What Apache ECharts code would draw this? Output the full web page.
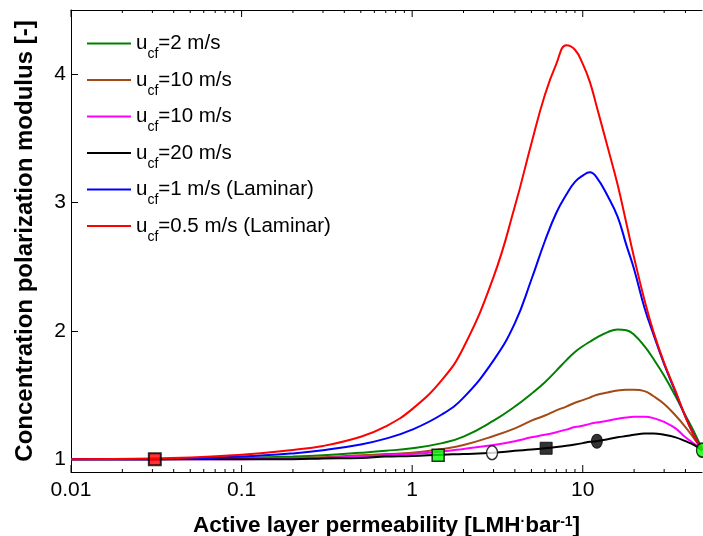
<!DOCTYPE html>
<html>
<head>
<meta charset="utf-8">
<script src="https://cdn.jsdelivr.net/npm/echarts@6/dist/echarts.min.js"></script>
<style>
  html, body { margin: 0; padding: 0; background: #fff; }
  #chart { width: 703px; height: 536px; }
</style>
</head>
<body>
<div id="chart"></div>
<script>
// shared x grid (LMH/bar)
const xValues = [0.01, 0.03, 0.1, 0.2, 0.3, 0.5, 0.7, 1, 1.5, 2, 3, 4, 5, 6, 7, 8, 9, 10, 11, 12, 14, 16, 18, 20, 23, 26, 30, 35, 40, 45, 50];

const ucf2 = [1.0, 1.0, 1.01, 1.02, 1.03, 1.05, 1.065, 1.085, 1.125, 1.175, 1.30, 1.41, 1.51, 1.60, 1.69, 1.77, 1.835, 1.88, 1.915, 1.945, 1.99, 2.01, 2.005, 1.97, 1.88, 1.78, 1.65, 1.49, 1.34, 1.21, 1.08];
const ucf10a = [1.0, 1.0, 1.005, 1.01, 1.015, 1.03, 1.04, 1.05, 1.08, 1.11, 1.18, 1.24, 1.30, 1.34, 1.38, 1.41, 1.44, 1.46, 1.48, 1.50, 1.52, 1.535, 1.54, 1.54, 1.53, 1.49, 1.43, 1.34, 1.25, 1.16, 1.08];
const ucf10b = [1.0, 1.0, 1.0, 1.005, 1.01, 1.02, 1.03, 1.04, 1.06, 1.08, 1.11, 1.14, 1.17, 1.19, 1.21, 1.23, 1.25, 1.26, 1.275, 1.285, 1.30, 1.315, 1.325, 1.33, 1.33, 1.32, 1.29, 1.24, 1.17, 1.12, 1.08];
const ucf20 = [1.0, 1.0, 1.0, 1.0, 1.005, 1.01, 1.02, 1.025, 1.035, 1.04, 1.05, 1.065, 1.075, 1.085, 1.095, 1.105, 1.115, 1.125, 1.135, 1.14, 1.155, 1.17, 1.18, 1.19, 1.20, 1.20, 1.19, 1.17, 1.14, 1.11, 1.07];
const ucf1lam = [1.0, 1.0, 1.02, 1.045, 1.07, 1.115, 1.16, 1.23, 1.35, 1.48, 1.77, 2.06, 2.40, 2.70, 2.92, 3.06, 3.16, 3.21, 3.235, 3.20, 3.05, 2.89, 2.67, 2.48, 2.18, 1.97, 1.74, 1.52, 1.33, 1.18, 1.07];
const ucf05lam = [1.0, 1.005, 1.035, 1.072, 1.103, 1.175, 1.255, 1.39, 1.62, 1.87, 2.42, 2.97, 3.46, 3.84, 4.08, 4.225, 4.19, 4.08, 3.94, 3.76, 3.43, 3.14, 2.84, 2.57, 2.24, 1.99, 1.75, 1.53, 1.33, 1.18, 1.07];

const legendLabels = ['=2 m/s', '=10 m/s', '=10 m/s', '=20 m/s', '=1 m/s (Laminar)', '=0.5 m/s (Laminar)'];

// highlighted points
const markerX = [0.031, 1.42, 2.94, 6.1, 12.1, 50];
const markerY = [1.0, 1.03, 1.05, 1.085, 1.14, 1.07];

// tick labels / tick positions
const yLabels = [1, 2, 3, 4];
const majorTicks = [0.01, 0.1, 1, 10];
const minorTicks = [0.02, 0.03, 0.04, 0.05, 0.06, 0.07, 0.08, 0.09,
                    0.2, 0.3, 0.4, 0.5, 0.6, 0.7, 0.8, 0.9,
                    2, 3, 4, 5, 6, 7, 8, 9,
                    20, 30, 40];

const X_MIN = 0.01, X_MAX = 50, Y_MIN = 0.9, Y_MAX = 4.5;
const FONT = '"Liberation Sans", Arial, sans-serif';

const curves = [ucf2, ucf10a, ucf10b, ucf20, ucf1lam, ucf05lam];
const colors = ['#008000', '#a34b16', '#ff00ff', '#000000', '#0000ff', '#ff0000'];
const names = ['s0', 's1', 's2', 's3', 's4', 's5'];

const markerStyles = [
  { symbol: 'rect', size: [12, 12], fill: '#ff0000', border: 2 },
  { symbol: 'rect', size: [12, 12], fill: '#00ff00', border: 1.5 },
  { symbol: 'circle', size: [11, 14], fill: '#ffffff', border: 1.5 },
  { symbol: 'rect', size: [12, 12], fill: '#000000', border: 1 },
  { symbol: 'circle', size: [11, 14], fill: '#000000', border: 1 },
  { symbol: 'circle', size: [11, 14], fill: '#00ff00', border: 1.5 }
];

function isDecade(v) {
  return majorTicks.some(t => Math.abs(t - v) / t < 1e-6);
}

const lineSeries = curves.map((ys, i) => ({
  name: names[i],
  type: 'line',
  data: xValues.map((x, j) => [x, ys[j]]),
  symbol: 'none',
  smooth: 0.45,
  lineStyle: { color: colors[i], width: 2 },
  itemStyle: { color: colors[i] },
  z: 2 + i
}));

const markerSeries = {
  type: 'scatter',
  silent: true,
  z: 20,
  data: markerX.map((x, i) => ({
    value: [x, markerY[i]],
    symbol: markerStyles[i].symbol,
    symbolSize: markerStyles[i].size,
    itemStyle: { color: markerStyles[i].fill, borderColor: '#000', borderWidth: markerStyles[i].border }
  }))
};

// log-axis major + minor ticks on bottom and top edges, pointing inward
const tickSeries = {
  type: 'custom',
  silent: true,
  z: 1,
  data: majorTicks.concat(minorTicks).map(v => [v]),
  renderItem: (params, api) => {
    const len = params.dataIndex < majorTicks.length ? 7 : 3;
    const b = api.coord([api.value(0), Y_MIN]);
    const t = api.coord([api.value(0), Y_MAX]);
    return {
      type: 'group',
      children: [
        { type: 'line', shape: { x1: b[0], y1: b[1], x2: b[0], y2: b[1] - len }, style: { stroke: '#000', lineWidth: 1 } },
        { type: 'line', shape: { x1: t[0], y1: t[1], x2: t[0], y2: t[1] + len }, style: { stroke: '#000', lineWidth: 1 } }
      ]
    };
  }
};

const chart = echarts.init(document.getElementById('chart'));

chart.setOption({
  backgroundColor: '#fff',
  animation: false,
  grid: { left: 71, right: 1, top: 10, bottom: 64, containLabel: false, outerBoundsMode: 'none' },
  legend: {
    data: names,
    orient: 'vertical',
    left: 87,
    top: 33,
    padding: 0,
    itemGap: 8,
    itemWidth: 44,
    itemHeight: 2,
    icon: 'rect',
    selectedMode: false,
    formatter: name => '{u|u}{s|cf}{u|' + legendLabels[names.indexOf(name)] + '}',
    textStyle: {
      color: '#000',
      fontFamily: FONT,
      rich: {
        u: { fontSize: 20.5, lineHeight: 36, fontFamily: FONT, color: '#000' },
        s: { fontSize: 14, lineHeight: 4, verticalAlign: 'bottom', fontFamily: FONT, color: '#000' }
      }
    }
  },
  xAxis: [{
    type: 'log',
    logBase: 10,
    min: X_MIN,
    max: X_MAX,
    position: 'bottom',
    splitLine: { show: false },
    axisLine: { lineStyle: { color: '#000', width: 1 } },
    axisTick: { show: false },
    axisLabel: {
      color: '#000', fontSize: 21, fontFamily: FONT, margin: 8,
      formatter: v => isDecade(v) ? String(+v.toPrecision(6)) : ''
    },
    name: '{b|Active layer permeability [LMH}{d|·}{b|bar}{p|-1}{b|]}',
    nameLocation: 'middle',
    nameGap: 43,
    nameTextStyle: {
      color: '#000',
      rich: {
        b: { fontSize: 22.5, fontWeight: 'bold', lineHeight: 22, fontFamily: FONT, color: '#000' },
        d: { fontSize: 14, fontWeight: 'bold', lineHeight: 12, verticalAlign: 'top', fontFamily: FONT, color: '#000' },
        p: { fontSize: 14, fontWeight: 'bold', lineHeight: 10, verticalAlign: 'top', fontFamily: FONT, color: '#000' }
      }
    }
  }, {
    type: 'log',
    logBase: 10,
    min: X_MIN,
    max: X_MAX,
    position: 'top',
    splitLine: { show: false },
    axisLine: { lineStyle: { color: '#000', width: 1 } },
    axisTick: { show: false },
    axisLabel: { show: false }
  }],
  yAxis: {
    type: 'value',
    min: Y_MIN,
    max: Y_MAX,
    splitNumber: 4,
    splitLine: { show: false },
    axisLine: { show: true, lineStyle: { color: '#000', width: 1 } },
    axisTick: { show: true, inside: true, length: 7, lineStyle: { color: '#000' } },
    axisLabel: {
      color: '#000', fontSize: 21, fontFamily: FONT, margin: 5,
      formatter: v => yLabels.includes(v) ? String(v) : ''
    },
    name: 'Concentration polarization modulus [-]',
    nameLocation: 'middle',
    nameRotate: 90,
    nameGap: 34,
    nameTextStyle: { color: '#000', fontSize: 24, fontWeight: 'bold', fontFamily: FONT }
  },
  series: [tickSeries].concat(lineSeries, [markerSeries])
});
</script>
</body>
</html>
